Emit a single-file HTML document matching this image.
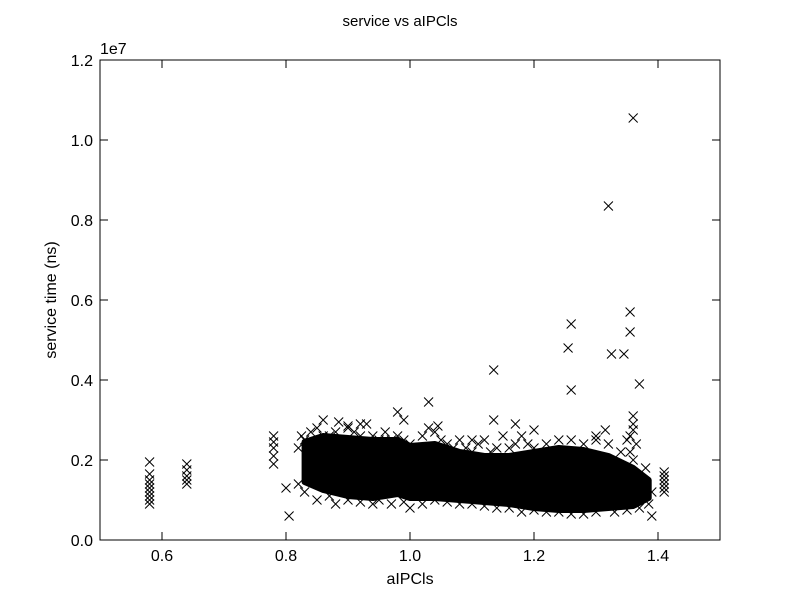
<!DOCTYPE html>
<html><head><meta charset="utf-8"><style>
body{margin:0;background:#fff;}
svg text{font-family:"Liberation Sans","DejaVu Sans",sans-serif;fill:#000;}
</style></head><body>
<svg id="chart" width="800" height="600" viewBox="0 0 800 600" xmlns="http://www.w3.org/2000/svg">
<rect width="800" height="600" fill="#fff"/>
<text x="400" y="26" font-size="15" text-anchor="middle">service vs aIPCls</text>
<g id="plot"></g>
<rect x="100" y="60" width="620" height="480" fill="none" stroke="#000" stroke-width="1"/>
<g id="axes"></g>
<text x="100" y="54" font-size="16">1e7</text>
<text x="410" y="584" font-size="16" text-anchor="middle">aIPCls</text>
<text transform="translate(56,300) rotate(-90)" font-size="16" text-anchor="middle">service time (ns)</text>
</svg>
<script>
// dense cluster envelope (x in aIPCls, y in millions of ns)
const envX=[0.83,0.86,0.90,0.94,0.98,1.00,1.04,1.08,1.12,1.16,1.20,1.24,1.28,1.32,1.36,1.385];
const envUpper=[2.45,2.6,2.55,2.5,2.5,2.35,2.4,2.2,2.1,2.1,2.2,2.3,2.25,2.1,1.8,1.5];
const envLower=[1.45,1.25,1.1,1.05,1.15,1.05,1.05,1.0,0.95,0.9,0.8,0.75,0.75,0.8,0.85,1.05];
// individual points
const ptX=[0.58,0.58,0.58,0.58,0.58,0.58,0.58,0.58,0.58,0.64,0.64,0.64,0.64,0.64,0.78,0.78,0.78,0.78,0.78,0.80,0.805,
1.03,1.135,1.26,1.255,1.26,1.32,1.36,1.355,1.355,1.325,1.345,1.37,1.41,1.41,1.41,1.41,1.41,1.41,1.315,0.98,0.99,1.135,1.36,1.36,1.39,
0.82,0.825,0.83,0.84,0.85,0.86,0.87,0.88,0.89,0.90,0.91,0.92,0.93,0.94,0.95,0.96,0.97,0.98,0.99,1.0,1.01,1.02,1.03,1.04,1.05,1.06,1.07,1.08,1.09,1.10,1.11,1.12,1.13,1.14,1.15,1.16,1.17,1.18,1.19,1.2,1.22,1.24,1.26,1.28,1.3,1.32,1.34,1.36,1.38,
0.82,0.83,0.85,0.87,0.88,0.9,0.92,0.94,0.95,0.97,0.99,1.0,1.02,1.04,1.06,1.08,1.1,1.12,1.14,1.16,1.18,1.2,1.22,1.24,1.26,1.28,1.3,1.33,1.35,1.37,1.385,1.39,
1.355,1.36,1.35,1.365,1.355,0.92,0.9,0.885,1.17,1.3,1.2,1.1,1.045,0.855,0.86];
const ptY=[0.9,1.0,1.1,1.2,1.3,1.4,1.5,1.65,1.95,1.4,1.5,1.6,1.75,1.9,1.9,2.1,2.3,2.45,2.6,1.3,0.6,
3.45,4.25,5.4,4.8,3.75,8.35,10.55,5.7,5.2,4.65,4.65,3.9,1.2,1.3,1.4,1.5,1.6,1.7,2.75,3.2,3.0,3.0,3.1,2.9,0.6,
2.3,2.6,2.5,2.7,2.8,3.0,2.6,2.7,2.5,2.8,2.7,2.6,2.9,2.6,2.5,2.7,2.5,2.6,2.5,2.4,2.3,2.6,2.8,2.7,2.5,2.4,2.3,2.5,2.3,2.2,2.4,2.5,2.2,2.3,2.6,2.3,2.4,2.6,2.4,2.3,2.4,2.5,2.5,2.4,2.5,2.4,2.2,2.0,1.8,
1.4,1.2,1.0,1.1,0.9,1.0,0.95,0.9,1.0,0.9,0.95,0.8,0.9,1.0,0.95,0.9,0.9,0.85,0.8,0.8,0.7,0.75,0.7,0.7,0.65,0.65,0.7,0.7,0.75,0.8,0.9,1.2,
2.6,2.75,2.5,2.4,2.2,2.9,2.85,2.95,2.9,2.6,2.75,2.5,2.85,2.5,2.6];
const xTicks=[0.6,0.8,1.0,1.2,1.4];
const xTickLabels=["0.6","0.8","1.0","1.2","1.4"];
const yTicks=[0,2,4,6,8,10,12];
const yTickLabels=["0.0","0.2","0.4","0.6","0.8","1.0","1.2"];

const NS="http://www.w3.org/2000/svg";
function sx(v){return 100+(v-0.5)/1.0*620;}
function sy(v){return 540-v/12*480;}
const plot=document.getElementById('plot'),axes=document.getElementById('axes');
function mk(tag,attrs,parent){const e=document.createElementNS(NS,tag);for(const k in attrs)e.setAttribute(k,attrs[k]);parent.appendChild(e);return e;}

// core blob
let d='';
for(let i=0;i<envX.length;i++)d+=(i?'L':'M')+sx(envX[i])+','+sy(envUpper[i]);
for(let i=envX.length-1;i>=0;i--)d+='L'+sx(envX[i])+','+sy(envLower[i]);
const blob=mk('path',{d:d+'Z',fill:'#000',stroke:'#000','stroke-width':6,'stroke-linejoin':'round'},plot);



for(let i=0;i<ptX.length;i++){
  const cx=sx(ptX[i]),cy=sy(ptY[i]),r=4.5;
  const m=mk('path',{d:`M${cx-r},${cy-r}L${cx+r},${cy+r}M${cx-r},${cy+r}L${cx+r},${cy-r}`,stroke:'#000','stroke-width':1,fill:'none'},plot);
  
  
}

xTicks.forEach((t,i)=>{
  const x=sx(t);
  mk('line',{x1:x,y1:540,x2:x,y2:532,stroke:'#000'},axes);
  mk('line',{x1:x,y1:60,x2:x,y2:68,stroke:'#000'},axes);
  const tx=mk('text',{x:x,y:561,'font-size':16,'text-anchor':'middle'},axes);
  tx.textContent=xTickLabels[i];
  
  
});
yTicks.forEach((t,i)=>{
  const y=sy(t);
  mk('line',{x1:100,y1:y,x2:108,y2:y,stroke:'#000'},axes);
  mk('line',{x1:720,y1:y,x2:712,y2:y,stroke:'#000'},axes);
  const tx=mk('text',{x:93,y:y+6,'font-size':16,'text-anchor':'end'},axes);
  tx.textContent=yTickLabels[i];
  
  
});
</script>
</body></html>
